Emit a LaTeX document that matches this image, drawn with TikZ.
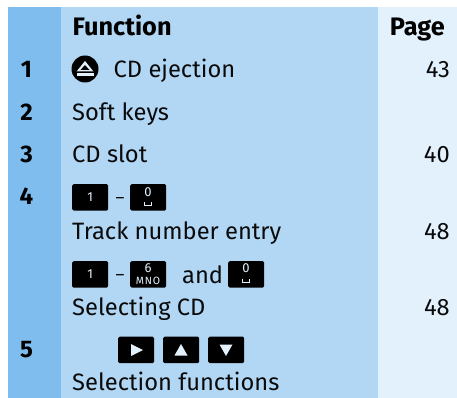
\documentclass[tikz,border=0pt]{standalone}
\usepackage{fontspec}
\setmainfont{Fira Sans}
\definecolor{bandA}{HTML}{7FBDEF}
\definecolor{bandB}{HTML}{B2D7F5}
\definecolor{bandC}{HTML}{E3F1FC}
\definecolor{ink}{HTML}{0A0A0A}
\tikzset{
  txt/.style={anchor=base west,inner sep=0pt,text=ink,font=\fontsize{23.7}{25}\selectfont},
  hd/.style={anchor=base west,inner sep=0pt,text=black,font=\fontsize{25.3}{27}\selectfont\bfseries},
  num/.style={anchor=base,inner sep=0pt,text=black,font=\fontsize{24}{25}\selectfont\bfseries},
  pg/.style={anchor=base east,inner sep=0pt,text=ink,font=\fontsize{23.7}{25}\selectfont},
  dashmark/.style={anchor=base,inner sep=0pt,text=ink,font=\fontsize{17}{18}\selectfont},
  keybox/.style={fill=black,rounded corners=1.5pt,minimum width=36pt,minimum height=26.5pt,inner sep=0pt,anchor=north west,text=bandC,align=center},
  keysmall/.style={font=\fontsize{13}{13}\selectfont}
}
\begin{document}
\begin{tikzpicture}[x=1pt,y=-1pt]
\useasboundingbox (0,0) rectangle (457,398);
\fill[white] (0,0) rectangle (457,398);
\fill[bandA] (8,7) rectangle (61,398);
\fill[bandB] (61,7) rectangle (378,398);
\fill[bandC] (378,7) rectangle (457,398);
\node[hd] (h1) at (72.5,35.5) {Function};
\node[hd,anchor=base east] (h2) at (445,35.5) {Page};
\node[num] (n1) at (26.5,78) {1};
\node[num] (n2) at (26.5,121) {2};
\node[num] (n3) at (26.5,163) {3};
\node[num] (n4) at (26.5,204) {4};
\node[num] (n5) at (26.5,357) {5};
% eject icon
\node[circle,fill=black,minimum size=27pt,inner sep=0pt] (ej) at (85,69) {};
\fill[bandC] (85,61) -- (93.5,71.5) -- (76.5,71.5) -- cycle;
\fill[black] (85,65) -- (89.5,70) -- (80.5,70) -- cycle;
\fill[bandC] (76.5,73.5) rectangle (93.5,76);
\node[txt] (t1) at (113.5,78) {CD ejection};
\node[pg] (p1) at (450,78) {43};
\node[txt] (t2) at (72,121) {Soft keys};
\node[txt] (t3) at (72,163) {CD slot};
\node[pg] (p3) at (450,163) {40};
% row 4
\node[keybox,keysmall] (k1) at (72,184) {1};
\node[dashmark] (d1) at (120,203) {–};
\node[keybox] (k2) at (130,184) {};
\node[inner sep=0pt,text=bandC,keysmall] (k2a) at (148,192) {0};
\draw[bandC,line width=0.8pt] (144.5,202) -- (144.5,205) -- (151.5,205) -- (151.5,202);
\node[txt] (t4) at (72,239) {Track number entry};
\node[pg] (p4) at (450,239) {48};
% row 5
\node[keybox,keysmall] (k3) at (72,261) {1};
\node[dashmark] (d2) at (120,280) {–};
\node[keybox] (k4) at (130,261) {};
\node[inner sep=0pt,text=bandC,keysmall] (k4a) at (148,268.5) {6};
\node[inner sep=0pt,text=bandC,font=\fontsize{10.5}{11}\selectfont,text width=30pt,align=center] (k4b) at (148,281) {\addfontfeatures{LetterSpace=8}MNO};
\node[txt] (t5a) at (182,283) {and};
\node[keybox] (k5) at (228,261) {};
\node[inner sep=0pt,text=bandC,keysmall] (k5a) at (246,268.5) {0};
\draw[bandC,line width=0.8pt] (242.5,279) -- (242.5,282) -- (249.5,282) -- (249.5,279);
\node[txt] (t5) at (72,315) {Selecting CD};
\node[pg] (p5) at (450,315) {48};
% row 6
\node[keybox] (k6) at (118,336.5) {};
\fill[bandC] (131,344) -- (143,350) -- (131,356) -- cycle;
\node[keybox] (k7) at (163,336.5) {};
\fill[bandC] (181,344) -- (187.5,355.5) -- (174.5,355.5) -- cycle;
\node[keybox] (k8) at (208,336.5) {};
\fill[bandC] (226,356) -- (219.5,344.5) -- (232.5,344.5) -- cycle;
\node[txt] (t6) at (72,390) {Selection functions};
\end{tikzpicture}
\end{document}
